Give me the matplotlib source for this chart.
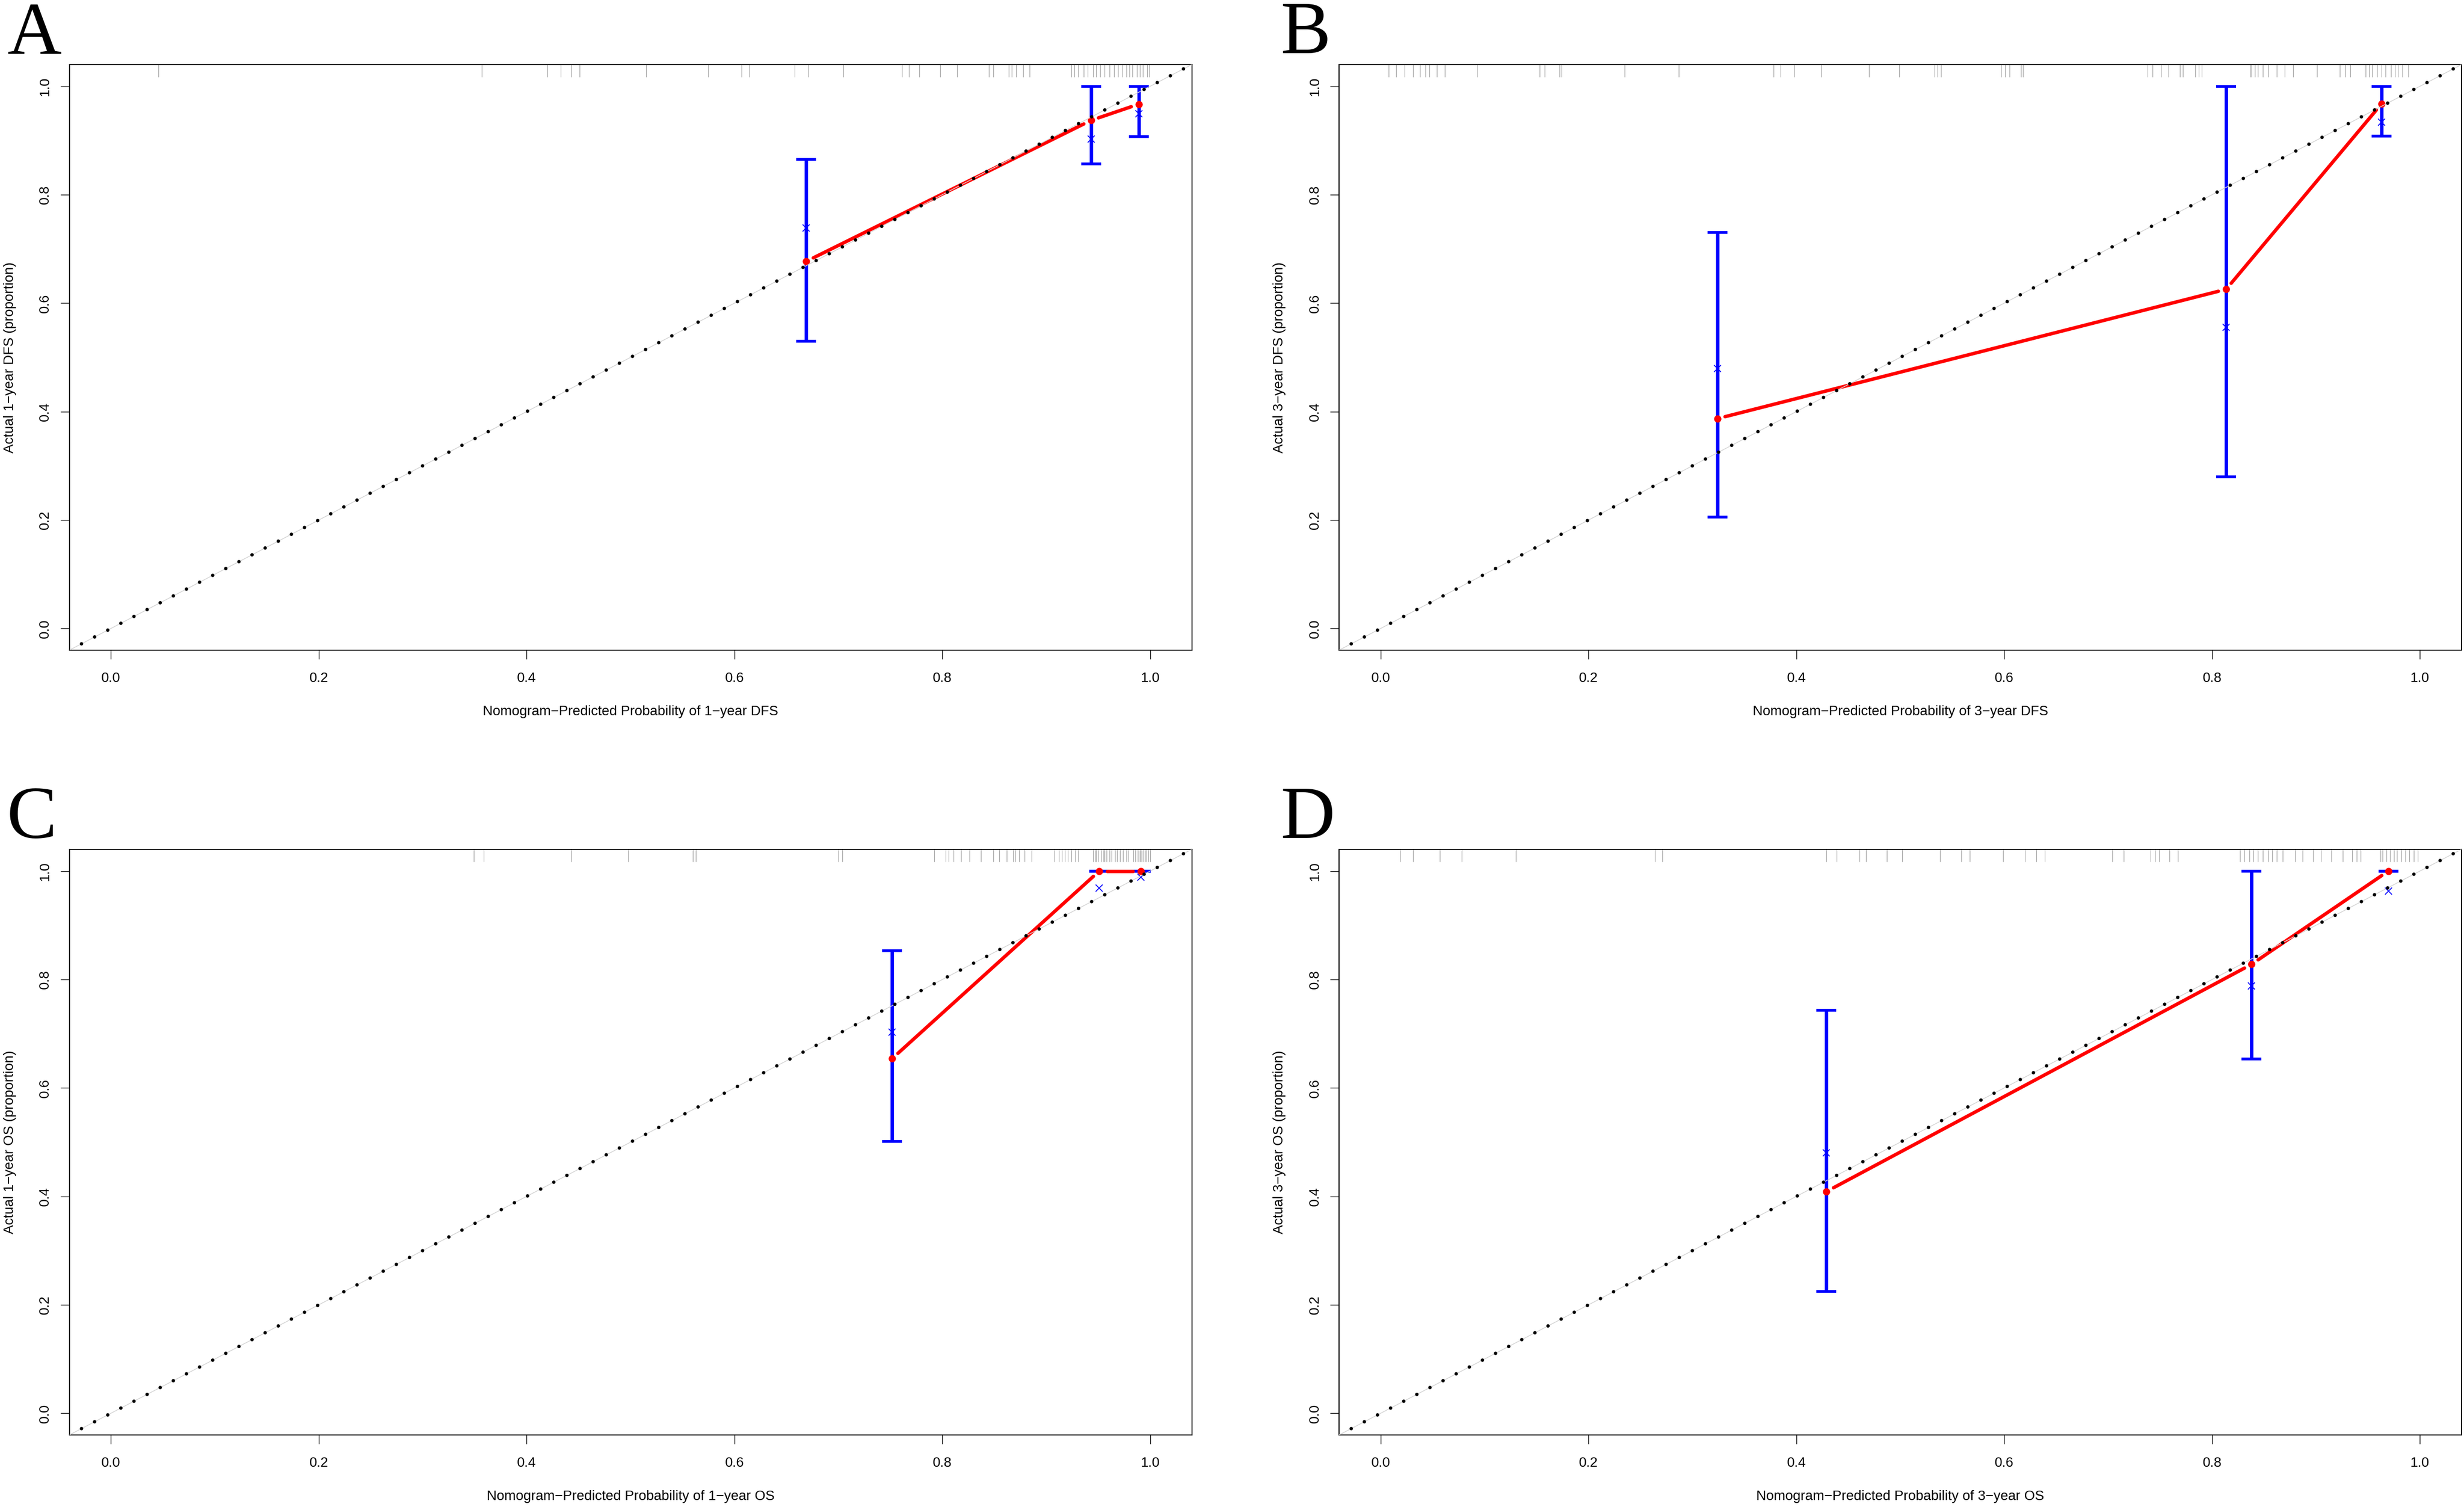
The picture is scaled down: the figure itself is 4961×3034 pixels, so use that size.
import numpy as np
import matplotlib
matplotlib.use("Agg")
import matplotlib.pyplot as plt
from matplotlib.collections import LineCollection

plt.rcParams['font.family'] = ['Liberation Sans', 'DejaVu Sans']

# ---- panel A: 1-year DFS
a_pred = [0.669, 0.943, 0.989]
a_obs = [0.677, 0.937, 0.967]
a_lo = [0.530, 0.857, 0.907]
a_hi = [0.865, 1.000, 1.000]
a_km = [0.739, 0.903, 0.949]
a_rug = [0.046, 0.357, 0.420, 0.433, 0.443, 0.451, 0.515, 0.575, 0.607, 0.614,
         0.658, 0.671, 0.705, 0.761, 0.768, 0.778, 0.798, 0.814, 0.845, 0.849,
         0.864, 0.867, 0.871, 0.878, 0.884, 0.924, 0.927, 0.931, 0.936, 0.940,
         0.945, 0.948, 0.952, 0.956, 0.961, 0.965, 0.969, 0.973, 0.977, 0.980,
         0.983, 0.987, 0.990, 0.993, 0.997, 0.999]

# ---- panel B: 3-year DFS
b_pred = [0.324, 0.8135, 0.963]
b_obs = [0.387, 0.6255, 0.9675]
b_lo = [0.2056, 0.280, 0.908]
b_hi = [0.730, 1.000, 1.000]
b_km = [0.479, 0.5555, 0.934]
b_rug = [0.008, 0.015, 0.023, 0.031, 0.038, 0.043, 0.047, 0.054, 0.062, 0.093,
         0.153, 0.158, 0.172, 0.174, 0.235, 0.287, 0.378, 0.385, 0.398, 0.424,
         0.470, 0.499, 0.533, 0.536, 0.539, 0.597, 0.601, 0.605, 0.616, 0.618,
         0.738, 0.743, 0.751, 0.758, 0.769, 0.772, 0.784, 0.787, 0.790, 0.837,
         0.838, 0.841, 0.844, 0.849, 0.854, 0.862, 0.870, 0.878, 0.901, 0.923,
         0.928, 0.933, 0.948, 0.951, 0.954, 0.959, 0.963, 0.967, 0.972, 0.976,
         0.979, 0.983, 0.989]

# ---- panel C: 1-year OS
c_pred = [0.7516, 0.951, 0.991]
c_obs = [0.654, 1.000, 1.000]
c_lo = [0.501, 1.000, 1.000]
c_hi = [0.853, 1.000, 1.000]
c_km = [0.703, 0.969, 0.989]
c_rug = [0.349, 0.359, 0.443, 0.498, 0.560, 0.563, 0.700, 0.704, 0.792, 0.803,
         0.806, 0.811, 0.818, 0.826, 0.837, 0.849, 0.855, 0.862, 0.868, 0.870,
         0.874, 0.879, 0.886, 0.908, 0.912, 0.915, 0.918, 0.921, 0.924, 0.928,
         0.931, 0.945, 0.947, 0.948, 0.950, 0.953, 0.955, 0.956, 0.958, 0.961,
         0.963, 0.966, 0.968, 0.971, 0.974, 0.977, 0.979, 0.984, 0.986, 0.988,
         0.990, 0.991, 0.993, 0.995, 0.996, 0.998, 1.000]

# ---- panel D: 3-year OS
d_pred = [0.429, 0.838, 0.9696]
d_obs = [0.409, 0.828, 1.000]
d_lo = [0.225, 0.653, 1.000]
d_hi = [0.743, 1.000, 1.000]
d_km = [0.480, 0.788, 0.963]
d_rug = [0.019, 0.031, 0.057, 0.078, 0.130, 0.264, 0.271, 0.429, 0.439, 0.461,
         0.467, 0.487, 0.502, 0.538, 0.559, 0.567, 0.599, 0.620, 0.631, 0.639,
         0.704, 0.715, 0.741, 0.745, 0.749, 0.759, 0.767, 0.827, 0.831, 0.836,
         0.840, 0.844, 0.849, 0.854, 0.858, 0.862, 0.868, 0.880, 0.887, 0.897,
         0.905, 0.915, 0.926, 0.935, 0.939, 0.943, 0.962, 0.964, 0.968, 0.971,
         0.975, 0.978, 0.982, 0.986, 0.990, 0.994, 0.998]

ticks = [0.0, 0.2, 0.4, 0.6, 0.8, 1.0]
tick_labels = ["0.0", "0.2", "0.4", "0.6", "0.8", "1.0"]

M = "\u2212"
panels = [
    ("A", a_pred, a_obs, a_lo, a_hi, a_km, a_rug,
     f"Nomogram{M}Predicted Probability of 1{M}year DFS", f"Actual 1{M}year DFS (proportion)"),
    ("B", b_pred, b_obs, b_lo, b_hi, b_km, b_rug,
     f"Nomogram{M}Predicted Probability of 3{M}year DFS", f"Actual 3{M}year DFS (proportion)"),
    ("C", c_pred, c_obs, c_lo, c_hi, c_km, c_rug,
     f"Nomogram{M}Predicted Probability of 1{M}year OS", f"Actual 1{M}year OS (proportion)"),
    ("D", d_pred, d_obs, d_lo, d_hi, d_km, d_rug,
     f"Nomogram{M}Predicted Probability of 3{M}year OS", f"Actual 3{M}year OS (proportion)"),
]

W, H, DPI = 4961, 3034, 100
fig = plt.figure(figsize=(W / DPI, H / DPI), dpi=DPI)

axw, axh = 2260 / W, 1179 / H
ax_pos = {"A": (139.5 / W, 1 - 1309 / H), "B": (2696 / W, 1 - 1309 / H),
          "C": (139.5 / W, 1 - 2889 / H), "D": (2696 / W, 1 - 2889 / H)}
letter_pos = {"A": (14 / W, 1 - 107 / H), "B": (2579 / W, 1 - 107 / H),
              "C": (14 / W, 1 - 1687 / H), "D": (2579 / W, 1 - 1687 / H)}


def gapped(ax, xs, ys, gap_px=16):
    # R type="b": line segments stop short of each point
    pts = ax.transData.transform(np.column_stack([xs, ys]))
    inv = ax.transData.inverted()
    segs = []
    for p0, p1 in zip(pts[:-1], pts[1:]):
        d = p1 - p0
        L = np.hypot(d[0], d[1])
        if L <= 2 * gap_px:
            continue
        u = d / L
        segs.append(inv.transform([p0 + u * gap_px, p1 - u * gap_px]))
    return segs


for key, pred, obs, lo, hi, km, rug, xlab, ylab in panels:
    x0, y0 = ax_pos[key]
    ax = fig.add_axes([x0, y0, axw, axh])
    ax.set_xlim(-0.04, 1.04)
    ax.set_ylim(-0.04, 1.04)

    pred = np.array(pred); obs = np.array(obs)
    lo = np.array(lo); hi = np.array(hi)

    ax.errorbar(pred, obs, yerr=[obs - lo, hi - obs], fmt='none', ecolor='blue',
                elinewidth=5, capsize=14.5, capthick=4, zorder=2)

    segs = gapped(ax, pred, obs)
    ax.add_collection(LineCollection(segs, colors='red', linewidths=5,
                                     capstyle='round', zorder=3))
    ax.plot(pred, obs, 'o', color='red', ms=9.5, mec='red', zorder=4)
    ax.plot(pred, km, 'x', color='blue', ms=10, mew=1.3, zorder=4)

    ax.plot([-0.04, 1.04], [-0.04, 1.04], color='#d4d4d4', lw=1.1, zorder=5)
    ax.plot([-0.04, 1.04], [-0.04, 1.04], color='black', lw=5,
            ls=(0.3, (0.01, 4.28)), dash_capstyle='round', zorder=6)

    ax.vlines(rug, 0.979, 1.0, transform=ax.get_xaxis_transform(),
              colors='0.6', lw=0.8, zorder=1)

    ax.set_xticks(ticks)
    ax.set_xticklabels(tick_labels)
    ax.set_yticks(ticks)
    ax.set_yticklabels(tick_labels, rotation=90, va='center')
    ax.tick_params(axis='both', length=13, width=1, labelsize=20, colors='black')
    ax.tick_params(axis='x', pad=18.5)
    ax.tick_params(axis='y', pad=12.5)
    for s in ax.spines.values():
        s.set_linewidth(1.5)
        s.set_color('black')

    ax.set_xlabel(xlab, fontsize=20, va='center')
    ax.xaxis.set_label_coords(0.5, -0.105)
    ax.set_ylabel(ylab, fontsize=20, va='center')
    ax.yaxis.set_label_coords(-0.053, 0.5)

    lx, ly = letter_pos[key]
    fig.text(lx, ly, key, fontsize=109, family=['Liberation Serif', 'DejaVu Serif'],
             ha='left', va='baseline')

fig.savefig("out.png", dpi=DPI, facecolor='white')
